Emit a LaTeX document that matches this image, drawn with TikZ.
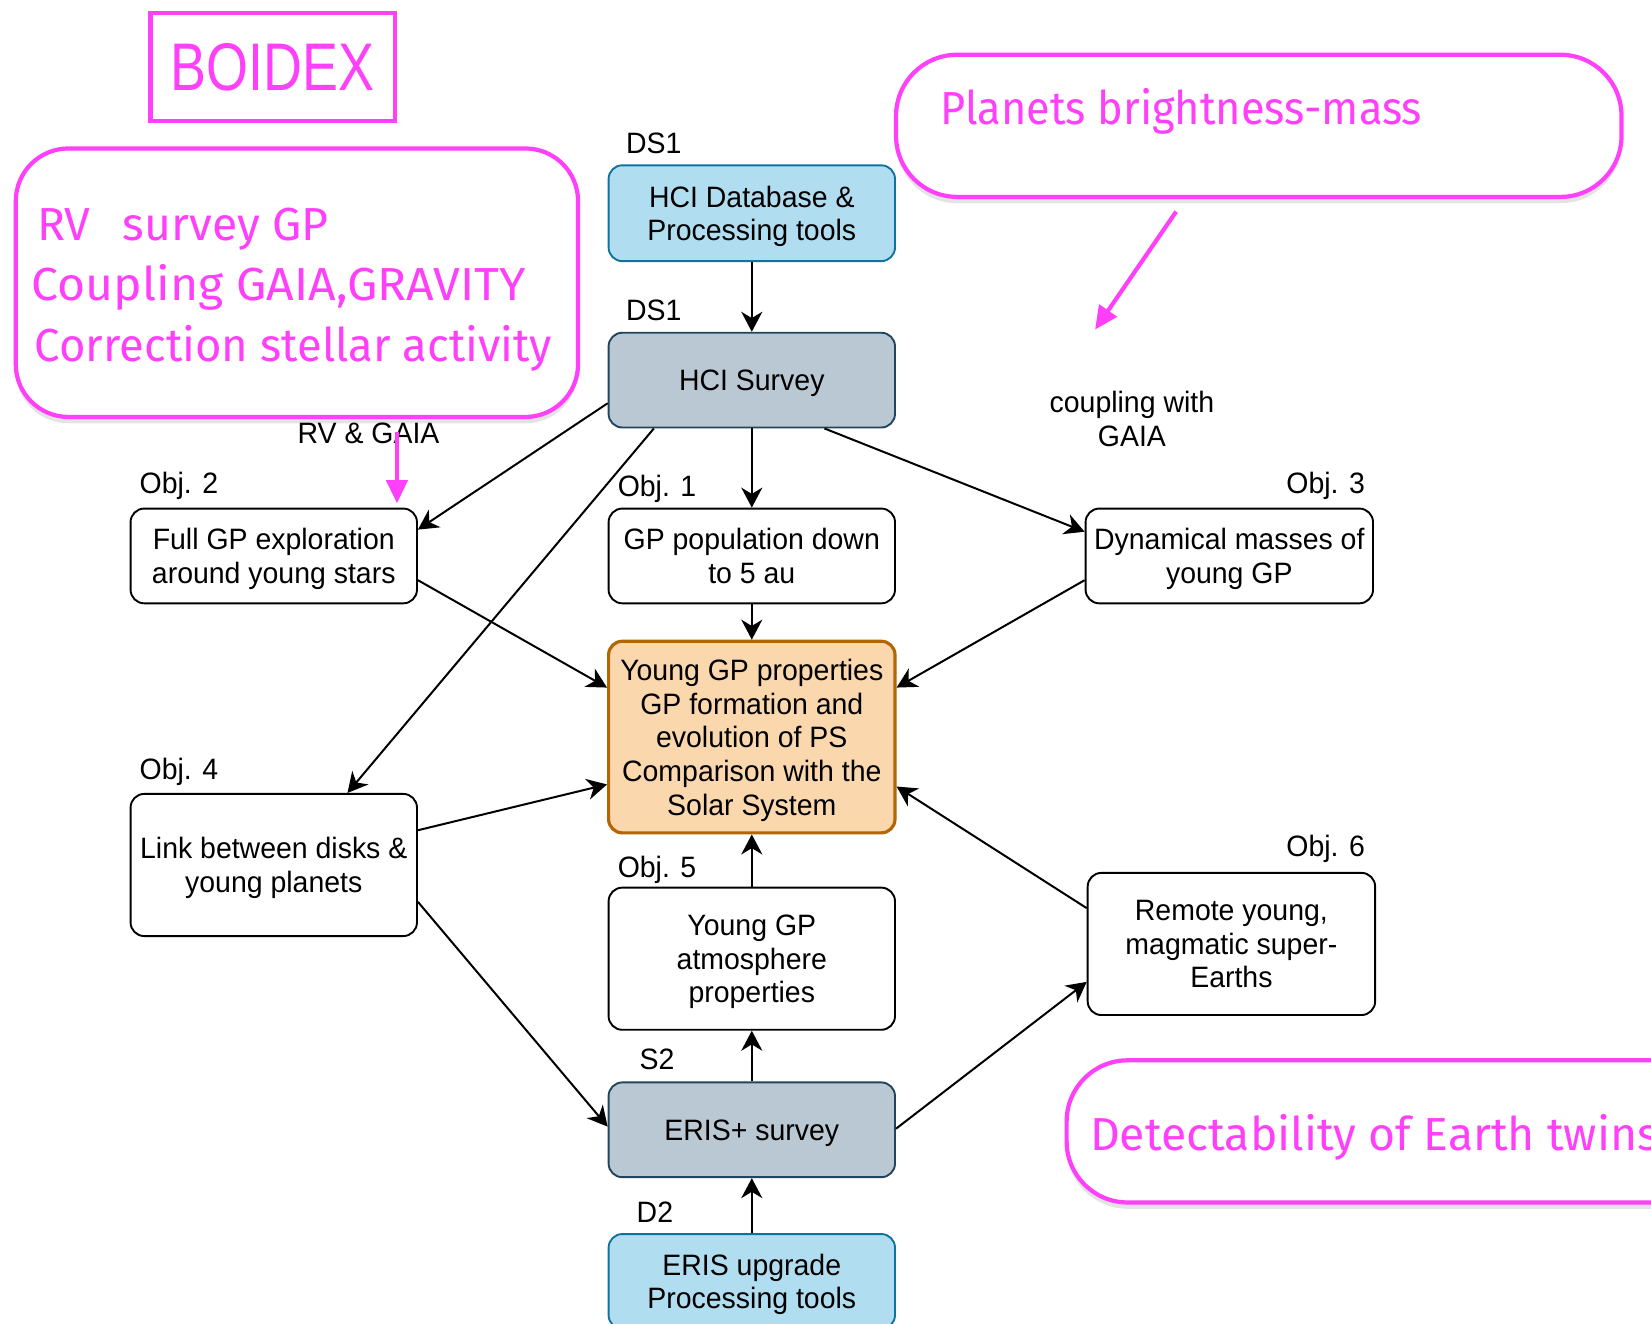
\documentclass[tikz,border=0pt]{standalone}
\usepackage{fontspec}
\setmainfont{Liberation Sans}[FakeStretch=0.965]
\newfontfamily\comicfont{Fira Sans}
\newfontfamily\narrowfont[FakeStretch=0.8]{Liberation Sans}
\usetikzlibrary{arrows.meta,shadows}
\definecolor{pinkc}{RGB}{255,64,250}
\definecolor{cblue}{HTML}{B1DDF0}
\definecolor{cbluedraw}{HTML}{10739E}
\definecolor{cgrey}{HTML}{BAC8D3}
\definecolor{cgreydraw}{HTML}{23445D}
\definecolor{corange}{HTML}{FAD7AC}
\definecolor{corangedraw}{HTML}{B46504}
\newcommand\diafont{\fontsize{28}{32}\selectfont}
\newcommand\pinkfont{\comicfont\fontsize{44}{50}\selectfont}
\newcommand\boidexfont{\narrowfont\fontsize{64}{70}\selectfont}
\tikzset{
  box/.style={draw, rounded corners=13pt, line width=1.8pt, align=center, inner sep=0pt, font=\diafont, minimum width=272pt, text depth=0pt},
  bluebox/.style={box, fill=cblue, draw=cbluedraw},
  greybox/.style={box, fill=cgrey, draw=cgreydraw},
  whitebox/.style={box, fill=white, draw=black},
  centralbox/.style={box, fill=corange, draw=corangedraw, line width=3pt},
  lbl/.style={inner sep=0pt, font=\diafont, text height=20pt, text depth=0pt},
  conn/.style={-{Stealth[length=19pt,width=20pt,inset=6pt]}, line width=1.9pt},
  pinkbox/.style={draw=pinkc, line width=4pt, rounded corners=50pt, fill=white, drop shadow={opacity=0.22, shadow xshift=0pt, shadow yshift=-6pt}},
  pinktxt/.style={text=pinkc, inner sep=0pt, anchor=base west, font=\pinkfont},
  pinkarrow/.style={draw=pinkc, line width=4pt, -{Triangle[length=22pt,width=20pt]}},
}
\begin{document}
\begin{tikzpicture}[x=1pt,y=-1pt]
\useasboundingbox (0,0) rectangle (1568,1257.4);
\clip (0,0) rectangle (1568,1257.4);
\fill[white] (0,0) rectangle (1568,1257.4);

% main boxes
\node[bluebox, minimum height=91pt] (db) at (714,202.5) {HCI Database \&\\Processing tools};
\node[greybox, minimum height=90pt] (survey) at (714,361) {HCI Survey};
\node[whitebox, minimum height=90pt] (full) at (260,528) {Full GP exploration\\around young stars};
\node[whitebox, minimum height=90pt] (pop) at (714,528) {GP population down\\to 5 au};
\node[whitebox, minimum height=90pt, minimum width=273pt] (dyn) at (1167.5,528) {Dynamical masses of\\young GP};
\node[centralbox, minimum height=182pt] (central) at (714,700) {Young GP properties\\GP formation and\\evolution of PS\\Comparison with the\\Solar System};
\node[whitebox, minimum height=135pt] (link) at (260,821.5) {Link between disks \&\\young planets};
\node[whitebox, minimum height=135pt] (atm) at (714,910.5) {Young GP\\atmosphere\\properties};
\node[whitebox, minimum height=135pt, minimum width=273pt] (remote) at (1169.5,896.5) {Remote young,\\magmatic super-\\Earths};
\node[greybox, minimum height=90pt] (eris) at (714,1073) {ERIS+ survey};
\node[bluebox, minimum height=90pt] (upg) at (714,1217) {ERIS upgrade\\Processing tools};

% labels
\node[lbl] (ds1a) at (621,136) {DS1};
\node[lbl] (ds1b) at (621,294) {DS1};
\node[lbl] (o2) at (170,459) {Obj. 2};
\node[lbl] (o1) at (624,462) {Obj. 1};
\node[lbl] (o3) at (1259,459) {Obj. 3};
\node[lbl] (o4) at (170,730) {Obj. 4};
\node[lbl] (o5) at (624,823) {Obj. 5};
\node[lbl] (o6) at (1259,803) {Obj. 6};
\node[lbl] (s2) at (624,1006) {S2};
\node[lbl] (d2) at (622,1151) {D2};
\node[font=\diafont, align=center, inner sep=0pt] (coup) at (1075,398) {coupling with\\GAIA};

% connectors
\draw[conn] (db.south) -- (survey.north);
\draw[conn] ([yshift=-22pt]survey.west) -- ([yshift=25pt]full.east);
\draw[conn] ([xshift=-93pt]survey.south) -- ([xshift=70pt]link.north);
\draw[conn] (survey.south) -- (pop.north);
\draw[conn] ([xshift=69pt]survey.south) -- ([yshift=23pt]dyn.west);
\draw[conn] (pop.south) -- (central.north);
\draw[conn] ([yshift=-23pt]full.east) -- ([yshift=47pt]central.west);
\draw[conn] ([yshift=-23pt]dyn.west) -- ([yshift=47pt]central.east);
\draw[conn] ([yshift=33pt]link.east) -- ([yshift=-45pt]central.west);
\draw[conn] ([yshift=34pt]remote.west) -- ([yshift=-47pt]central.east);
\draw[conn] (atm.north) -- (central.south);
\draw[conn] (eris.north) -- (atm.south);
\draw[conn] ([yshift=-35pt]link.east) -- ([yshift=3pt]eris.west);
\draw[conn] ([yshift=1pt]eris.east) -- ([yshift=-36pt]remote.west);
\draw[conn] (upg.north) -- (eris.south);

% pink annotations
\node[draw=pinkc, line width=4pt, minimum width=232pt, minimum height=103pt, inner sep=0pt, text=pinkc, font=\boidexfont] (boidex) at (259,63.5) {BOIDEX};

\draw[pinkbox] (15,141) rectangle (549,396);
\node[pinktxt] (t1) at (35,228) {RV\hspace{0.7em}survey GP};
\node[pinktxt] (t2) at (30,285) {\scalebox{1.04}[1]{Coupling GAIA,GRAVITY}};
\node[pinktxt] (t3) at (33,343) {\scalebox{0.98}[1]{Correction stellar activity}};
\node[lbl] (rvg) at (350,411) {RV \& GAIA};

\draw[pinkbox, rounded corners=58pt] (851,52) rectangle (1540,187);
\node[pinktxt] (t4) at (893,118) {\scalebox{0.935}[1]{Planets brightness-mass}};

\draw[pinkbox, rounded corners=58pt] (1013,1007) rectangle (1640,1142);
\node[pinktxt] (t5) at (1035,1093) {Detectability of Earth twins};

\coordinate (pa1s) at (377,410);
\coordinate (pa1e) at (377,478);
\draw[pinkarrow] (pa1s) -- (pa1e);
\coordinate (pa2s) at (1117,201);
\coordinate (pa2e) at (1040,313);
\draw[pinkarrow] (pa2s) -- (pa2e);
\end{tikzpicture}
\end{document}
